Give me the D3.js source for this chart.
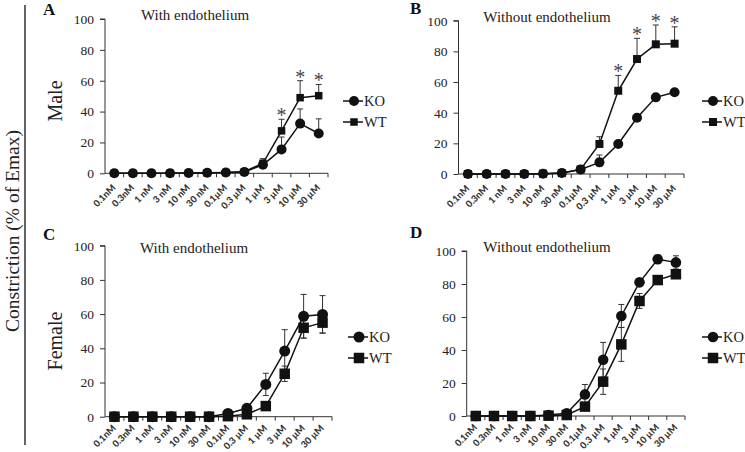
<!DOCTYPE html>
<html>
<head>
<meta charset="utf-8">
<script src="https://cdn.jsdelivr.net/npm/d3@7"></script>
<style>
  html, body { margin: 0; padding: 0; background: #fff; }
  svg { display: block; }
</style>
</head>
<body>
<svg id="chart" width="745" height="452"></svg>
<script>
// ---------------- DATA ----------------
const concentrations = ["0.1nM","0.3nM","1 nM","3 nM","10 nM","30 nM","0.1µM","0.3 µM","1 µM","3 µM","10 µM","30 µM"];
const yTickValues = [0, 20, 40, 60, 80, 100];
const seriesNames = ["KO", "WT"];
const panelLetters = ["A", "B", "C", "D"];
const panelTitles = ["With endothelium", "Without endothelium", "With endothelium", "Without endothelium"];
const rowLabels = ["Male", "Female"];
const yAxisTitle = "Constriction (% of Emax)";

// Panel A: male, with endothelium
const maleEndoKO     = [0, 0, 0, 0, 0.2, 0.3, 0.5, 0.8, 5.5, 15.5, 32.2, 25.8];
const maleEndoKOErr  = [0, 0, 0, 0, 0, 0, 0, 0, 1.5, 8, 9.5, 9.5];
const maleEndoWT     = [0, 0, 0, 0, 0.2, 0.3, 0.5, 1, 6.5, 27.5, 49, 50.3];
const maleEndoWTErr  = [0, 0, 0, 0, 0, 0, 0, 0, 3, 7.5, 11, 7.3];
const maleEndoSig    = ["3 µM", "10 µM", "30 µM"];

// Panel B: male, without endothelium
const maleNoEndoKO    = [0, 0, 0, 0, 0.2, 0.6, 3, 7.6, 19.6, 36.7, 50, 53.3];
const maleNoEndoKOErr = [0, 0, 0, 0, 0, 0, 0.5, 4.8, 1, 1, 1.5, 1.5];
const maleNoEndoWT    = [0, 0, 0, 0, 0.2, 0.6, 3, 19.6, 54.3, 75, 84.6, 85];
const maleNoEndoWTErr = [0, 0, 0, 0, 0, 0, 0.5, 4.7, 10, 13.5, 12.6, 11];
const maleNoEndoSig   = ["1 µM", "3 µM", "10 µM", "30 µM"];

// Panel C: female, with endothelium
const femaleEndoKO     = [0, 0, 0, 0, 0, 0, 1.9, 4.9, 18.9, 38.4, 58.7, 59.8];
const femaleEndoKOErr  = [0, 0, 0, 0, 0, 0, 0.5, 1, 6.5, 12.5, 12.8, 11];
const femaleEndoWT     = [0, 0, 0, 0, 0, 0, 0.3, 1.4, 6.2, 25.1, 52, 55];
const femaleEndoWTErr  = [0, 0, 0, 0, 0, 0, 0.3, 0.5, 1, 4.5, 6, 6];
const femaleEndoSig    = [];

// Panel D: female, without endothelium
const femaleNoEndoKO    = [0, 0, 0, 0, 0.6, 1.6, 13.1, 34.1, 60.6, 81, 95, 93.1];
const femaleNoEndoKOErr = [0, 0, 0, 0, 0.3, 0.5, 6, 10.5, 7, 2, 2.6, 4];
const femaleNoEndoWT    = [0, 0, 0, 0, 0.2, 0.6, 5.7, 20.8, 43.4, 69.7, 82.4, 85.9];
const femaleNoEndoWTErr = [0, 0, 0, 0, 0.2, 0.3, 2, 7.7, 10.3, 4.5, 1, 1];
const femaleNoEndoSig   = [];

// ---------------- LAYOUT ----------------
const panels = [
  { ko: maleEndoKO, koErr: maleEndoKOErr, wt: maleEndoWT, wtErr: maleEndoWTErr, sig: maleEndoSig,
    x0: 105, x1: 328, y0: 173.3, y1: 19, errMode: "up", circR: 5, sqS: 7.5, labDy: 15,
    letterX: 43, letterY: 15, titleX: 195, titleY: 20, legX: 343, legY: 101 },
  { ko: maleNoEndoKO, koErr: maleNoEndoKOErr, wt: maleNoEndoWT, wtErr: maleNoEndoWTErr, sig: maleNoEndoSig,
    x0: 458.5, x1: 684, y0: 174, y1: 20.7, errMode: "up", circR: 5, sqS: 8, labDy: 15,
    letterX: 410, letterY: 14, titleX: 547, titleY: 22, legX: 702, legY: 101 },
  { ko: femaleEndoKO, koErr: femaleEndoKOErr, wt: femaleEndoWT, wtErr: femaleEndoWTErr, sig: femaleEndoSig,
    x0: 105, x1: 332, y0: 416.7, y1: 245.7, errMode: "both", circR: 5.5, sqS: 10.5, labDy: 12,
    letterX: 43, letterY: 240, titleX: 194, titleY: 253, legX: 348, legY: 337 },
  { ko: femaleNoEndoKO, koErr: femaleNoEndoKOErr, wt: femaleNoEndoWT, wtErr: femaleNoEndoWTErr, sig: femaleNoEndoSig,
    x0: 466.7, x1: 685, y0: 416, y1: 251, errMode: "both", circR: 5.3, sqS: 10.5, labDy: 12,
    letterX: 410, letterY: 238, titleX: 547, titleY: 252, legX: 702, legY: 337 }
];

const svg = d3.select("#chart");
const serif = "'Liberation Serif', 'Times New Roman', serif";
const sans = "Lato, 'Liberation Sans', sans-serif";

// Left vertical rule and shared y title
svg.append("line").attr("x1", 25).attr("x2", 25).attr("y1", 5).attr("y2", 445)
  .attr("stroke", "#111").attr("stroke-width", 1.3);
svg.append("text").attr("transform", "translate(19,231) rotate(-90)")
  .attr("text-anchor", "middle").attr("font-family", serif).attr("font-size", 19.5)
  .attr("fill", "#222").text(yAxisTitle);

svg.append("text").attr("transform", "translate(62,101) rotate(-90)")
  .attr("text-anchor", "middle").attr("font-family", serif).attr("font-size", 20)
  .attr("fill", "#222").text(rowLabels[0]);
svg.append("text").attr("transform", "translate(62,341) rotate(-90)")
  .attr("text-anchor", "middle").attr("font-family", serif).attr("font-size", 20)
  .attr("fill", "#222").text(rowLabels[1]);

function drawMarker(g, name, cx, cy, p) {
  if (name === "KO") {
    g.append("circle").attr("cx", cx).attr("cy", cy).attr("r", p.circR).attr("fill", "#111");
  } else {
    g.append("rect").attr("x", cx - p.sqS / 2).attr("y", cy - p.sqS / 2)
      .attr("width", p.sqS).attr("height", p.sqS).attr("fill", "#111");
  }
}

panels.forEach((p, i) => {
  const g = svg.append("g");
  const x = d3.scaleBand().domain(concentrations).range([p.x0, p.x1]);
  const y = d3.scaleLinear().domain([0, 100]).range([p.y0, p.y1]);
  const cx = c => x(c) + x.bandwidth() / 2;

  // Y axis
  const yAxis = d3.axisLeft(y).tickValues(yTickValues).tickSize(5).tickPadding(6);
  const ya = g.append("g").attr("transform", `translate(${p.x0},0)`).call(yAxis);
  ya.select(".domain").attr("stroke", "#333").attr("d", `M-5,${p.y1}H0V${p.y0}`);
  ya.selectAll(".tick line").attr("stroke", "#333");
  ya.selectAll(".tick text").attr("font-family", serif).attr("font-size", 13.5).attr("fill", "#222");

  // X axis: ticks at band boundaries
  const xa = g.append("g").attr("transform", `translate(0,${p.y0})`);
  xa.append("line").attr("x1", p.x0).attr("x2", p.x1).attr("y1", 0).attr("y2", 0)
    .attr("stroke", "#333").attr("stroke-width", 1);
  concentrations.forEach((c, k) => {
    const bx = x(c) + x.bandwidth();
    xa.append("line").attr("x1", bx).attr("x2", bx).attr("y1", 0).attr("y2", 4)
      .attr("stroke", "#333");
  });
  concentrations.forEach(c => {
    xa.append("text")
      .attr("transform", `translate(${cx(c) + 2},${p.labDy}) rotate(-45)`)
      .attr("text-anchor", "end")
      .attr("font-family", sans).attr("font-weight", 900).attr("font-size", 9.3)
      .attr("fill", "#333").text(c);
  });

  // Panel letter and title
  g.append("text").attr("x", p.letterX).attr("y", p.letterY)
    .attr("font-family", serif).attr("font-weight", "bold").attr("font-size", 17)
    .attr("fill", "#111").text(panelLetters[i]);
  g.append("text").attr("x", p.titleX).attr("y", p.titleY).attr("text-anchor", "middle")
    .attr("font-family", serif).attr("font-size", 15).attr("fill", "#222").text(panelTitles[i]);

  const series = [
    { name: seriesNames[0], vals: p.ko, err: p.koErr },
    { name: seriesNames[1], vals: p.wt, err: p.wtErr }
  ];

  // Error bars
  series.forEach(s => {
    concentrations.forEach((c, k) => {
      const e = s.err[k];
      if (!e) return;
      const xx = cx(c);
      const top = y(s.vals[k] + e);
      const bot = p.errMode === "both" ? y(Math.max(0, s.vals[k] - e)) : y(s.vals[k]);
      g.append("line").attr("x1", xx).attr("x2", xx).attr("y1", top).attr("y2", bot)
        .attr("stroke", "#333").attr("stroke-width", 1);
      g.append("line").attr("x1", xx - 3).attr("x2", xx + 3).attr("y1", top).attr("y2", top)
        .attr("stroke", "#333").attr("stroke-width", 1);
      if (p.errMode === "both") {
        g.append("line").attr("x1", xx - 3).attr("x2", xx + 3).attr("y1", bot).attr("y2", bot)
          .attr("stroke", "#333").attr("stroke-width", 1);
      }
    });
  });

  // Lines + markers
  const line = d3.line().x((d, k) => cx(concentrations[k])).y(d => y(d));
  series.forEach(s => {
    g.append("path").datum(s.vals).attr("d", line).attr("fill", "none")
      .attr("stroke", "#111").attr("stroke-width", 1.5);
  });
  series.forEach(s => {
    s.vals.forEach((v, k) => drawMarker(g, s.name, cx(concentrations[k]), y(v), p));
  });

  // Significance asterisks
  p.sig.forEach(c => {
    const k = concentrations.indexOf(c);
    const top = y(p.wt[k] + p.wtErr[k]);
    g.append("text").attr("x", cx(c)).attr("y", top + 3).attr("text-anchor", "middle")
      .attr("font-family", serif).attr("font-size", 20).attr("fill", "#444").text("*");
  });

  // Legend
  series.forEach((s, j) => {
    const ly = p.legY + j * 21;
    g.append("line").attr("x1", p.legX).attr("x2", p.legX + 20).attr("y1", ly).attr("y2", ly)
      .attr("stroke", "#111").attr("stroke-width", 1.5);
    drawMarker(g, s.name, p.legX + 11, ly, p);
    g.append("text").attr("x", p.legX + 21).attr("y", ly).attr("dy", "0.35em")
      .attr("font-family", serif).attr("font-size", 14.5).attr("fill", "#222").text(s.name);
  });
});
</script>
</body>
</html>
